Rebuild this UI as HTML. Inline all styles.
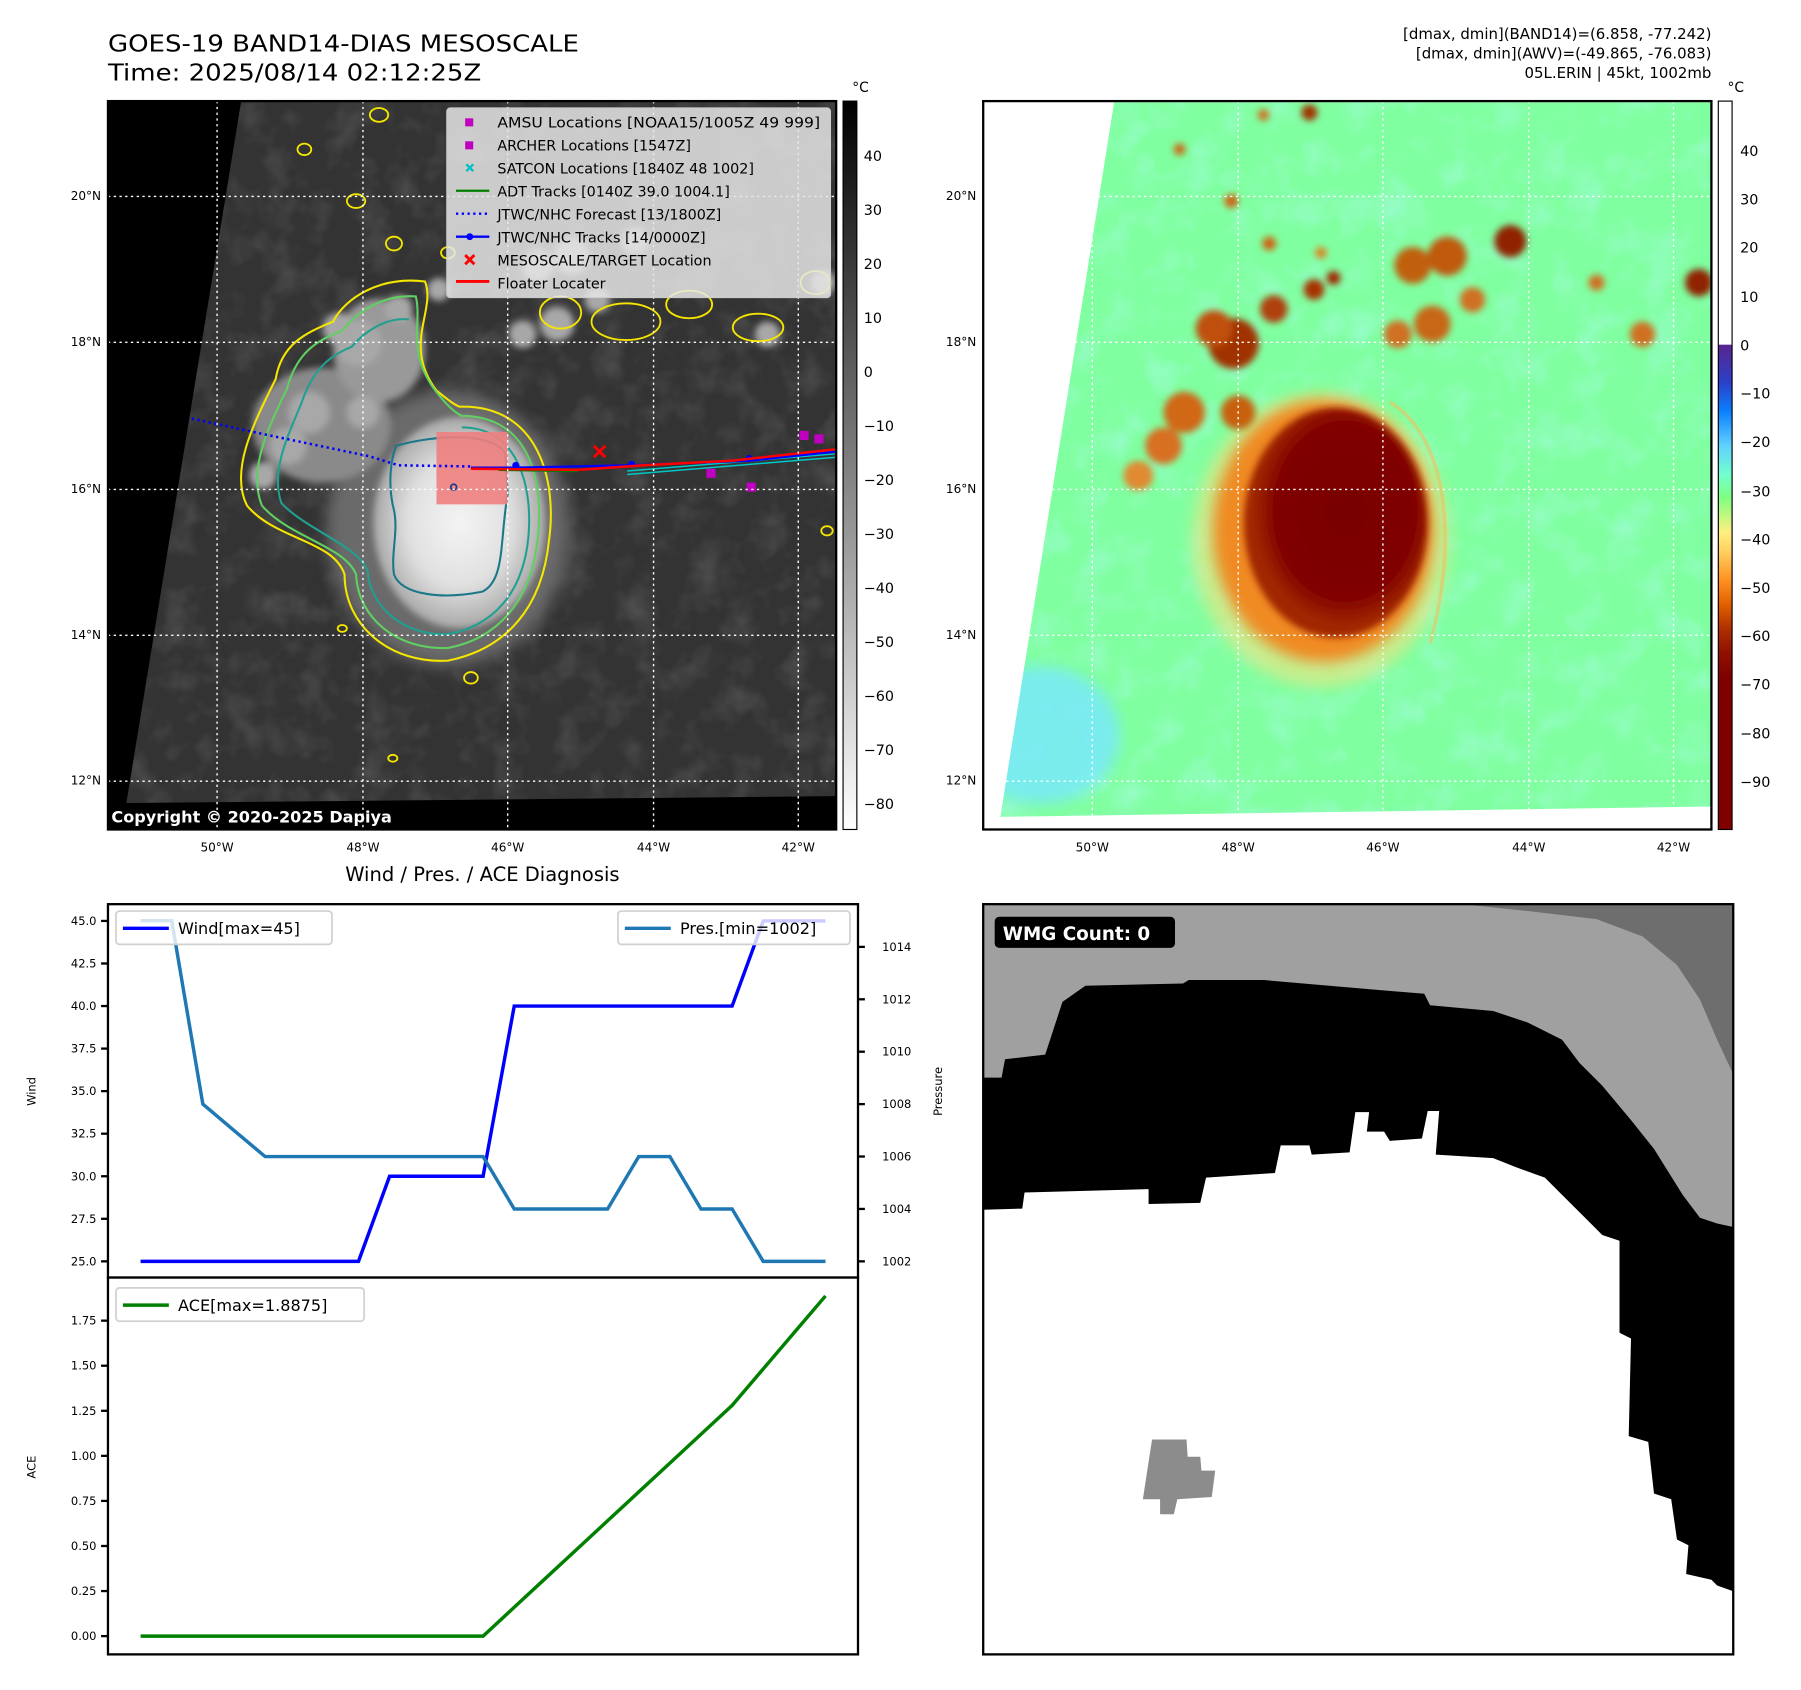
<!DOCTYPE html>
<html><head><meta charset="utf-8"><style>
html,body{margin:0;padding:0;background:#fff;}
svg{display:block;font-family:"DejaVu Sans","Liberation Sans",sans-serif;}
</style></head><body>
<svg id="fig" width="1801" height="1690" viewBox="0 0 1568 1471" preserveAspectRatio="none" xmlns="http://www.w3.org/2000/svg">
<defs>
  <linearGradient id="gGrey" x1="0" y1="0" x2="0" y2="1"><stop offset="0" stop-color="#000"/><stop offset="1" stop-color="#fff"/></linearGradient>
  <linearGradient id="gJet" x1="0" y1="0" x2="0" y2="1">
    <stop offset="0" stop-color="#5a2590"/><stop offset="0.078" stop-color="#2a40c8"/><stop offset="0.138" stop-color="#0a80ff"/>
    <stop offset="0.207" stop-color="#60d0ff"/><stop offset="0.267" stop-color="#70ffd0"/><stop offset="0.317" stop-color="#80ff80"/>
    <stop offset="0.387" stop-color="#fff080"/><stop offset="0.427" stop-color="#ffd060"/><stop offset="0.487" stop-color="#ff9020"/>
    <stop offset="0.536" stop-color="#e06000"/><stop offset="0.586" stop-color="#b03000"/><stop offset="0.636" stop-color="#901000"/>
    <stop offset="0.686" stop-color="#800000"/><stop offset="1" stop-color="#800000"/>
  </linearGradient>
  <radialGradient id="gEye"><stop offset="0" stop-color="#f4f4f4"/><stop offset="0.6" stop-color="#e0e0e0"/><stop offset="1" stop-color="#a8a8a8"/></radialGradient>
  <radialGradient id="gCore" cx="0.55" cy="0.45"><stop offset="0" stop-color="#780000"/><stop offset="0.75" stop-color="#800000"/><stop offset="1" stop-color="#a02800"/></radialGradient>
  <filter id="blur6"><feGaussianBlur stdDeviation="6"/></filter>
  <filter id="blur3"><feGaussianBlur stdDeviation="3"/></filter>
  <filter id="tex" x="0" y="0" width="1" height="1">
    <feTurbulence type="fractalNoise" baseFrequency="0.035" numOctaves="3" seed="4"/>
    <feColorMatrix type="matrix" values="0 0 0 0 1  0 0 0 0 1  0 0 0 0 1  0.9 0 0 0 -0.4"/>
  </filter>
  <filter id="tex2" x="0" y="0" width="1" height="1">
    <feTurbulence type="fractalNoise" baseFrequency="0.03" numOctaves="3" seed="9"/>
    <feColorMatrix type="matrix" values="0 0 0 0 0.45  0 0 0 0 0.95  0 0 0 0 0.95  1.2 0 0 0 -0.55"/>
  </filter>
  <clipPath id="clipTL"><polygon points="210,88 728,88 728,693 110,699"/></clipPath>
  <clipPath id="clipTR"><polygon points="970,89 1490,89 1490,702 871,711"/></clipPath>
  <clipPath id="clipBR"><rect x="856" y="787" width="653" height="653"/></clipPath>
</defs>

<text x="94" y="45" font-size="20" textLength="410" lengthAdjust="spacingAndGlyphs">GOES-19 BAND14-DIAS MESOSCALE</text>
<text x="94" y="70" font-size="20" textLength="325" lengthAdjust="spacingAndGlyphs">Time: 2025/08/14 02:12:25Z</text>
<g font-size="13" text-anchor="end">
  <text x="1490" y="34">[dmax, dmin](BAND14)=(6.858, -77.242)</text>
  <text x="1490" y="51">[dmax, dmin](AWV)=(-49.865, -76.083)</text>
  <text x="1490" y="68">05L.ERIN | 45kt, 1002mb</text>
</g>

<!-- ================= TOP-LEFT MAP ================= -->
<g>
  <rect x="94" y="88" width="634" height="634" fill="#000"/>
  <g clip-path="url(#clipTL)">
    <rect x="94" y="88" width="634" height="634" fill="#333"/>
    <rect x="94" y="88" width="634" height="634" filter="url(#tex)" opacity="0.3"/>
    <g fill="#a8a8a8" filter="url(#blur3)">
      <ellipse cx="390" cy="460" rx="105" ry="120" fill="#6a6a6a" filter="url(#blur6)"/>
      <ellipse cx="280" cy="370" rx="60" ry="50" fill="#8a8a8a"/>
      <ellipse cx="330" cy="305" rx="40" ry="45" fill="#999"/>
      <circle cx="312" cy="299" r="20"/><circle cx="295" cy="286" r="14"/><circle cx="347" cy="269" r="12"/>
      <circle cx="382" cy="252" r="10"/><circle cx="468" cy="231" r="14"/><circle cx="498" cy="223" r="16"/>
      <circle cx="553" cy="210" r="12"/><circle cx="485" cy="282" r="15"/><circle cx="455" cy="291" r="12"/>
      <circle cx="520" cy="261" r="11"/><circle cx="668" cy="291" r="11"/>
      <circle cx="717" cy="246" r="11"/><circle cx="269" cy="359" r="18"/><circle cx="251" cy="388" r="16"/>
      <circle cx="229" cy="414" r="12"/><circle cx="316" cy="359" r="14"/>
    </g>
    <ellipse cx="400" cy="455" rx="75" ry="92" fill="url(#gEye)" filter="url(#blur3)"/>
    <g fill="none" stroke-width="1.8">
      <path d="M400,354 C470,352 485,420 478,470 C472,530 440,565 390,575 C340,578 300,545 300,500 C290,470 240,470 215,440 C200,410 220,370 240,330 C245,300 265,290 290,280 C300,260 330,240 370,245 C380,270 350,300 380,340 C390,348 395,352 400,354Z" stroke="#f5e600"/>
      <path d="M402,362 C462,362 474,420 468,470 C462,525 432,556 390,564 C348,566 312,540 310,500 C300,475 252,468 228,440 C216,410 232,375 250,338 C258,308 275,296 298,288 C312,270 335,256 362,258 C368,282 352,310 384,346 C392,356 398,360 402,362Z" stroke="#60d060"/>
      <path d="M402,372 C452,372 464,425 460,468 C455,518 428,545 390,552 C352,554 322,528 320,497 C312,475 268,462 245,438 C236,412 248,385 262,352 C272,322 286,310 306,302 C318,288 336,276 356,278" stroke="#20a090"/>
      <path d="M345,388 C380,378 430,376 440,395 L442,430 C435,470 440,505 420,515 C385,522 350,518 343,500 C340,480 348,460 342,440 C338,420 340,400 345,388Z" stroke="#1a7888"/>
    </g>
    <g fill="none" stroke="#f5e600" stroke-width="1.6">
      <ellipse cx="545" cy="280" rx="30" ry="16"/><ellipse cx="488" cy="272" rx="18" ry="14"/><ellipse cx="660" cy="285" rx="22" ry="12"/>
      <ellipse cx="600" cy="265" rx="20" ry="12"/><ellipse cx="710" cy="246" rx="13" ry="10"/><ellipse cx="265" cy="130" rx="6" ry="5"/>
      <ellipse cx="310" cy="175" rx="8" ry="6"/><ellipse cx="343" cy="212" rx="7" ry="6"/><ellipse cx="390" cy="220" rx="6" ry="5"/>
      <ellipse cx="330" cy="100" rx="8" ry="6"/><ellipse cx="298" cy="547" rx="4" ry="3"/>
      <ellipse cx="342" cy="660" rx="4" ry="3"/><ellipse cx="410" cy="590" rx="6" ry="5"/><ellipse cx="720" cy="462" rx="5" ry="4"/>
    </g>
    <rect x="380" y="376" width="62" height="63" fill="#f08080" opacity="0.9"/>
    <polyline points="94,347 156,362 230,378 321,397 347,405 410,406" fill="none" stroke="#0000ff" stroke-width="2.2" stroke-dasharray="2,3"/>
    <g stroke="#00c8c8" stroke-width="1.3">
      <path d="M546,410 L728,395 M546,413 L728,398 M615,404 L728,392"/>
    </g>
    <line x1="434" y1="409" x2="503" y2="410" stroke="#008000" stroke-width="2"/>
    <polyline points="410,407 449,407 550,405 652,401 728,393" fill="none" stroke="#0000ff" stroke-width="2"/>
    <g fill="#0000ff"><circle cx="449" cy="405" r="3"/><circle cx="550" cy="404" r="3"/><circle cx="652" cy="399" r="3"/></g>
    <polyline points="410,408 503,409 560,405 637,401 728,391" fill="none" stroke="#ff0000" stroke-width="2.2"/>
    <path d="M517,388 L527,398 M527,388 L517,398" stroke="#ff0000" stroke-width="2.5"/>
    <g fill="#c000c0">
      <rect x="696" y="375" width="8" height="8"/><rect x="709" y="378" width="8" height="8"/>
      <rect x="615" y="408" width="8" height="8"/><rect x="650" y="420" width="8" height="8"/>
    </g>
    <circle cx="395" cy="424" r="2.5" fill="none" stroke="#1a3a88" stroke-width="1.5"/>
  </g>
  <rect x="94" y="699" width="268" height="23" rx="2" fill="#000"/>
  <text x="97" y="716" font-size="14" font-weight="bold" fill="#fff">Copyright © 2020-2025 Dapiya</text>
  <g stroke="#fff" stroke-width="1.2" stroke-dasharray="2,3" fill="none">
    <path d="M189,88V722 M316,88V722 M442,88V722 M569,88V722 M695,88V722"/>
    <path d="M94,171H728 M94,298H728 M94,426H728 M94,553H728 M94,680H728"/>
  </g>
  <g>
    <rect x="389" y="94" width="334" height="165" rx="3" fill="#e6e6e6" fill-opacity="0.85" stroke="#ccc"/>
    <g font-size="12.5">
      <rect x="405" y="103" width="7" height="7" fill="#c000c0"/><text x="433" y="111" textLength="281" lengthAdjust="spacingAndGlyphs">AMSU Locations [NOAA15/1005Z 49 999]</text>
      <rect x="405" y="123" width="7" height="7" fill="#c000c0"/><text x="433" y="131">ARCHER Locations [1547Z]</text>
      <path d="M406,143 L412,149 M412,143 L406,149" stroke="#00c0c0" stroke-width="2"/><text x="433" y="151">SATCON Locations [1840Z 48 1002]</text>
      <line x1="397" y1="166" x2="426" y2="166" stroke="#008000" stroke-width="2"/><text x="433" y="171">ADT Tracks [0140Z 39.0 1004.1]</text>
      <line x1="397" y1="186" x2="426" y2="186" stroke="#0000ff" stroke-width="2" stroke-dasharray="2,3"/><text x="433" y="191">JTWC/NHC Forecast [13/1800Z]</text>
      <line x1="397" y1="206" x2="426" y2="206" stroke="#0000ff" stroke-width="2"/><circle cx="409" cy="206" r="3" fill="#0000ff"/><text x="433" y="211">JTWC/NHC Tracks [14/0000Z]</text>
      <path d="M405,222 L413,230 M413,222 L405,230" stroke="#ff0000" stroke-width="2.5"/><text x="433" y="231">MESOSCALE/TARGET Location</text>
      <line x1="397" y1="245" x2="426" y2="245" stroke="#ff0000" stroke-width="2.5"/><text x="433" y="251">Floater Locater</text>
    </g>
  </g>
  <rect x="94" y="88" width="634" height="634" fill="none" stroke="#000" stroke-width="2"/>
</g>
<g font-size="10.5">
  <g text-anchor="end"><text x="88" y="174">20°N</text><text x="88" y="301">18°N</text><text x="88" y="429">16°N</text><text x="88" y="556">14°N</text><text x="88" y="683">12°N</text></g>
  <g text-anchor="middle"><text x="189" y="741">50°W</text><text x="316" y="741">48°W</text><text x="442" y="741">46°W</text><text x="569" y="741">44°W</text><text x="695" y="741">42°W</text></g>
</g>
<g>
  <rect x="734" y="88" width="12" height="634" fill="url(#gGrey)" stroke="#000" stroke-width="1"/>
  <text x="742" y="80" font-size="12">°C</text>
  <g font-size="12.5">
    <text x="752" y="140">40</text><text x="752" y="187">30</text><text x="752" y="234">20</text><text x="752" y="281">10</text>
    <text x="752" y="328">0</text><text x="752" y="375">−10</text><text x="752" y="422">−20</text><text x="752" y="469">−30</text>
    <text x="752" y="516">−40</text><text x="752" y="563">−50</text><text x="752" y="610">−60</text><text x="752" y="657">−70</text><text x="752" y="704">−80</text>
  </g>
</g>

<!-- ================= TOP-RIGHT MAP ================= -->
<g>
  <rect x="856" y="88" width="634" height="634" fill="#fff"/>
  <g clip-path="url(#clipTR)">
    <rect x="856" y="88" width="634" height="634" fill="#80ffa0"/>
    <rect x="856" y="88" width="634" height="634" filter="url(#tex2)" opacity="0.8"/>
    <ellipse cx="905" cy="640" rx="70" ry="60" fill="#78e8ff" filter="url(#blur6)" opacity="0.8"/>
    <ellipse cx="1150" cy="470" rx="112" ry="128" fill="#ffe080" filter="url(#blur6)" opacity="0.55"/>
    <ellipse cx="1152" cy="462" rx="96" ry="114" fill="#f08a20" filter="url(#blur6)"/>
    <g filter="url(#blur3)">
      <circle cx="1074" cy="299" r="22" fill="#a03000"/><circle cx="1057" cy="286" r="16" fill="#c05010"/>
      <circle cx="1109" cy="269" r="12" fill="#b04010"/><circle cx="1144" cy="252" r="9" fill="#a83000"/>
      <circle cx="1161" cy="242" r="6" fill="#a02000"/><circle cx="1230" cy="231" r="16" fill="#c06010"/>
      <circle cx="1260" cy="223" r="17" fill="#c05a10"/><circle cx="1315" cy="210" r="14" fill="#902000"/>
      <circle cx="1247" cy="282" r="16" fill="#c86818"/><circle cx="1217" cy="291" r="12" fill="#d07020"/>
      <circle cx="1282" cy="261" r="11" fill="#d07020"/><circle cx="1390" cy="246" r="7" fill="#d07020"/>
      <circle cx="1430" cy="291" r="11" fill="#d07020"/><circle cx="1479" cy="246" r="12" fill="#902000"/>
      <circle cx="1031" cy="359" r="18" fill="#d06818"/><circle cx="1013" cy="388" r="16" fill="#d87020"/>
      <circle cx="991" cy="414" r="13" fill="#e08a30"/><circle cx="1078" cy="359" r="15" fill="#c86010"/>
      <circle cx="1027" cy="130" r="5" fill="#d06010"/><circle cx="1072" cy="175" r="6" fill="#d06010"/>
      <circle cx="1105" cy="212" r="6" fill="#d06010"/><circle cx="1150" cy="220" r="5" fill="#e08020"/>
      <circle cx="1140" cy="98" r="7" fill="#a03000"/><circle cx="1100" cy="100" r="5" fill="#d07020"/>
    </g>
    <ellipse cx="1163" cy="455" rx="80" ry="100" fill="url(#gCore)" filter="url(#blur3)"/>
    <path d="M1210,350 C1260,380 1270,470 1245,560" fill="none" stroke="#f0c060" stroke-width="3" opacity="0.6"/>
  </g>
  <g stroke="#fff" stroke-width="1.2" stroke-dasharray="2,3" fill="none">
    <path d="M951,88V722 M1078,88V722 M1204,88V722 M1331,88V722 M1457,88V722"/>
    <path d="M856,171H1490 M856,298H1490 M856,426H1490 M856,553H1490 M856,680H1490"/>
  </g>
  <rect x="856" y="88" width="634" height="634" fill="none" stroke="#000" stroke-width="2"/>
</g>
<g font-size="10.5">
  <g text-anchor="end"><text x="850" y="174">20°N</text><text x="850" y="301">18°N</text><text x="850" y="429">16°N</text><text x="850" y="556">14°N</text><text x="850" y="683">12°N</text></g>
  <g text-anchor="middle"><text x="951" y="741">50°W</text><text x="1078" y="741">48°W</text><text x="1204" y="741">46°W</text><text x="1331" y="741">44°W</text><text x="1457" y="741">42°W</text></g>
</g>
<g>
  <rect x="1496" y="88" width="12" height="212" fill="#fff"/>
  <rect x="1496" y="300" width="12" height="422" fill="url(#gJet)"/>
  <rect x="1496" y="88" width="12" height="634" fill="none" stroke="#000" stroke-width="1"/>
  <text x="1504" y="80" font-size="12">°C</text>
  <g font-size="12.5">
    <text x="1515" y="136">40</text><text x="1515" y="178">30</text><text x="1515" y="220">20</text><text x="1515" y="263">10</text>
    <text x="1515" y="305">0</text><text x="1515" y="347">−10</text><text x="1515" y="389">−20</text><text x="1515" y="432">−30</text>
    <text x="1515" y="474">−40</text><text x="1515" y="516">−50</text><text x="1515" y="558">−60</text><text x="1515" y="600">−70</text>
    <text x="1515" y="643">−80</text><text x="1515" y="685">−90</text>
  </g>
</g>

<!-- ================= BOTTOM-RIGHT WMG ================= -->
<g clip-path="url(#clipBR)">
  <rect x="856" y="787" width="653" height="653" fill="#a0a0a0"/>
  <polygon points="1273,787 1509,787 1509,935 1495,905 1480,870 1460,840 1430,815 1390,800 1330,793" fill="#6e6e6e"/>
  <polygon points="856,938 872,938 875,922 910,918 925,872 945,858 1030,856 1035,853 1100,853 1180,860 1240,865 1245,875 1300,880 1330,890 1360,905 1375,925 1395,945 1420,975 1440,1000 1465,1040 1480,1060 1495,1065 1509,1068 1509,1440 856,1440" fill="#000"/>
  <polygon points="856,1053 890,1052 892,1038 1000,1035 1000,1048 1045,1047 1050,1025 1110,1021 1115,997 1140,997 1142,1005 1175,1003 1180,968 1192,968 1190,985 1205,985 1210,993 1238,991 1243,967 1253,967 1250,1005 1300,1008 1320,1016 1345,1025 1360,1040 1380,1060 1395,1075 1410,1080 1410,1160 1420,1165 1418,1250 1435,1255 1440,1300 1455,1305 1460,1340 1470,1345 1468,1370 1490,1375 1495,1380 1509,1385 1509,1440 856,1440" fill="#fff"/>
  <polygon points="1003,1253 1033,1253 1034,1268 1045,1268 1046,1280 1058,1280 1055,1303 1025,1305 1022,1318 1010,1318 1010,1305 995,1305" fill="#8c8c8c"/>
  <rect x="866" y="798" width="157" height="27" rx="4" fill="#000"/>
  <text x="873" y="818" font-size="16" font-weight="bold" fill="#fff">WMG Count: 0</text>
</g>
<rect x="856" y="787" width="653" height="653" fill="none" stroke="#000" stroke-width="2"/>

<!-- ================= BOTTOM-LEFT CHART ================= -->
<text x="420" y="767" font-size="17" text-anchor="middle">Wind / Pres. / ACE Diagnosis</text>
<g id="chart"></g>
</svg>

<script>
const timeIndex = [0,1,2,3,4,5,6,7,8,9,10,11,12,13,14,15,16,17,18,19,20,21,22];
const windValues = [25,25,25,25,25,25,25,25,30,30,30,30,40,40,40,40,40,40,40,40,45,45,45];
const presValues = [1015,1015,1008,1007,1006,1006,1006,1006,1006,1006,1006,1006,1004,1004,1004,1004,1006,1006,1004,1004,1002,1002,1002];
const aceValues = [0,0,0,0,0,0,0,0,0,0,0,0,0.16,0.32,0.48,0.64,0.80,0.96,1.12,1.28,1.4825,1.685,1.8875];
const windTicks = [25.0,27.5,30.0,32.5,35.0,37.5,40.0,42.5,45.0];
const presTicks = [1002,1004,1006,1008,1010,1012,1014];
const aceTicks = [0,0.25,0.5,0.75,1.0,1.25,1.5,1.75];

const NS = 'http://www.w3.org/2000/svg';
const chart = document.getElementById('chart');
function mk(tag, attrs, parent){ const e=document.createElementNS(NS,tag); for(const k in attrs) e.setAttribute(k,attrs[k]); (parent||chart).appendChild(e); return e; }

const xOf = i => 122.4 + i*(718.7-122.4)/22;
const yWind = v => 1097.9 - (v-25)*(1097.9-801.6)/20;
const yPres = p => 1097.9 - (p-1002)*22.81;
const yAce = a => 1424.1 - a*156.9;

const f1 = mk('rect',{x:94,y:787,width:653,height:325,fill:'#fff',stroke:'#000','stroke-width':2});


const f2 = mk('rect',{x:94,y:1112,width:653,height:328,fill:'#fff',stroke:'#000','stroke-width':2});



windTicks.forEach(v=>{
  const y=yWind(v);
  mk('line',{x1:88,y1:y,x2:94,y2:y,stroke:'#000','stroke-width':2});
  const t=mk('text',{x:84,y:y+3.5,'font-size':10,'text-anchor':'end'}); t.textContent=v.toFixed(1);
  
  
});
presTicks.forEach(p=>{
  const y=yPres(p);
  mk('line',{x1:747,y1:y,x2:753,y2:y,stroke:'#000','stroke-width':2});
  const t=mk('text',{x:768,y:y+3.5,'font-size':10}); t.textContent=p;
  
  
});
aceTicks.forEach(a=>{
  const y=yAce(a);
  mk('line',{x1:88,y1:y,x2:94,y2:y,stroke:'#000','stroke-width':2});
  const t=mk('text',{x:84,y:y+3.5,'font-size':10,'text-anchor':'end'}); t.textContent=a.toFixed(2);
  
  
});
const yl1=mk('text',{x:31,y:950,'font-size':10,'text-anchor':'middle',transform:'rotate(-90 31 950)'}); yl1.textContent='Wind';


const yl2=mk('text',{x:820,y:950,'font-size':10,'text-anchor':'middle',transform:'rotate(-90 820 950)'}); yl2.textContent='Pressure';


const yl3=mk('text',{x:31,y:1277,'font-size':10,'text-anchor':'middle',transform:'rotate(-90 31 1277)'}); yl3.textContent='ACE';



const pts = (vals, yf) => vals.map((v,i)=>xOf(timeIndex[i]).toFixed(1)+','+yf(v).toFixed(1)).join(' ');
const windLine = mk('polyline',{points:pts(windValues,yWind),fill:'none',stroke:'#0000ff','stroke-width':3});


const presLine = mk('polyline',{points:pts(presValues,yPres),fill:'none',stroke:'#1f77b4','stroke-width':3});


const aceLine = mk('polyline',{points:pts(aceValues,yAce),fill:'none',stroke:'#008000','stroke-width':3});



function legend(name,x,y,w,color,label){
  const g=mk('g',{});
  
  
  mk('rect',{x:x,y:y,width:w,height:29,rx:3,fill:'#fff','fill-opacity':0.8,stroke:'#d0d0d0','stroke-width':1.5},g);
  mk('line',{x1:x+6,y1:y+15,x2:x+46,y2:y+15,stroke:color,'stroke-width':3},g);
  const t=mk('text',{x:x+54,y:y+20,'font-size':14},g); t.textContent=label;
}
legend('wind-legend',101,793,188,'#0000ff','Wind[max=45]');
legend('pressure-legend',538,793,202,'#1f77b4','Pres.[min=1002]');
legend('ace-legend',101,1121,216,'#008000','ACE[max=1.8875]');
</script>
</body></html>
